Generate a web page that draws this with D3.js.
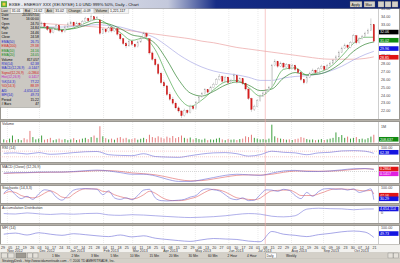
<!DOCTYPE html>
<html>
<head>
<meta charset="utf-8">
<script src="https://cdn.jsdelivr.net/npm/d3@7"></script>
<style>
  body { margin: 0; background: #d4d0c8; }
  svg { display: block; font-family: "Liberation Sans", Arial, sans-serif; }
</style>
</head>
<body>
<div id="chart"></div>
<script>
'use strict'

////////////////////////////////////
////////////// data ////////////////
////////////////////////////////////

// one candle = two trading days
const opens = [32.1,32.4,32.0,32.6,33.0,32.5,32.8,33.1,32.7,32.2,
  31.8,32.3,32.9,33.0,33.2,32.8,32.4,32.0,32.5,32.9,
  32.3,32.1,32.7,33.1,33.3,32.9,33.2,33.0,33.4,33.8,
  33.5,34.0,33.7,33.6,31.9,32.4,32.1,32.6,32.2,32.5,
  31.8,31.2,30.6,30.3,30.9,30.5,30.2,30.8,31.3,31.9,
  31.2,29.4,28.6,27.9,26.8,25.6,25.2,24.1,23.5,23.0,
  22.4,22.0,21.4,22.1,21.8,22.6,22.3,23.1,23.8,24.2,
  24.7,24.4,25.0,25.4,26.0,26.4,25.8,26.3,25.6,25.9,
  26.5,25.7,26.1,25.5,24.8,23.6,22.2,22.6,23.3,23.9,
  24.3,24.6,25.1,27.8,28.3,27.7,28.1,27.6,27.9,27.4,
  27.8,27.3,26.9,26.0,25.6,26.3,26.8,27.2,26.9,27.4,
  27.7,27.3,27.8,28.1,28.4,28.9,29.5,30.0,30.4,30.1,
  30.7,31.6,30.7,31.2,31.5,31.9,32.3,33.0]
const highs = [32.6,32.5,32.8,33.2,33.1,32.9,33.3,33.2,32.8,32.3,
  32.5,33.0,33.2,33.4,33.3,32.9,32.5,32.7,33.1,33.0,
  32.4,32.9,33.3,33.5,33.4,33.4,33.3,33.6,34.0,33.9,
  34.3,34.1,34.1,33.7,32.6,32.5,32.8,32.7,32.7,32.6,
  31.9,31.3,30.8,31.1,31.0,30.6,31.0,31.5,32.1,32.0,
  31.3,29.6,28.8,28.1,27.0,25.9,25.3,24.4,23.8,23.2,
  22.6,22.1,22.3,22.2,22.8,22.7,23.3,24.0,24.4,24.9,
  24.8,25.2,25.6,26.2,26.7,26.5,26.5,26.4,26.1,26.8,
  26.6,26.3,26.2,25.6,24.9,23.7,22.8,23.5,24.1,24.5,
  24.8,25.2,28.0,28.6,28.4,28.3,28.2,28.1,28.0,28.0,
  27.9,27.4,27.0,26.1,26.5,27.0,27.4,27.3,27.6,27.9,
  27.8,28.0,28.3,28.6,29.1,29.7,30.2,30.6,30.5,30.9,
  31.8,31.7,31.4,31.7,32.1,32.5,33.8,33.1]
const lows = [31.9,31.8,31.9,32.4,32.3,32.3,32.6,32.5,32.0,31.6,
  31.7,32.2,32.7,32.8,32.6,32.2,31.8,31.9,32.4,32.1,
  31.9,32.0,32.6,33.0,32.7,32.8,32.8,32.9,33.3,33.3,
  33.4,33.5,33.6,31.7,31.8,31.9,32.0,32.0,32.1,31.6,
  31.0,30.4,30.0,30.2,30.3,30.0,30.1,30.7,31.2,31.3,
  29.2,28.4,27.7,26.6,25.4,25.0,23.9,23.3,22.8,22.2,
  21.8,21.1,21.3,21.6,21.7,22.1,22.2,23.0,23.7,24.1,
  24.2,24.3,24.9,25.3,25.9,25.6,25.7,25.4,25.5,25.8,
  25.5,25.6,25.3,24.6,23.4,21.9,22.0,22.5,23.2,23.8,
  24.2,24.5,25.0,27.7,27.5,27.6,27.4,27.5,27.2,27.3,
  27.1,26.7,25.8,25.4,25.5,26.2,26.7,26.7,26.8,27.3,
  27.1,27.2,27.7,28.0,28.3,28.8,29.4,29.9,29.9,30.0,
  30.6,30.5,30.6,31.1,31.4,31.8,32.2,30.7]
const closes = [32.4,32.0,32.6,33.0,32.5,32.8,33.1,32.7,32.2,31.8,
  32.3,32.9,33.0,33.2,32.8,32.4,32.0,32.5,32.9,32.3,
  32.1,32.7,33.1,33.3,32.9,33.2,33.0,33.4,33.8,33.5,
  34.0,33.7,33.9,31.9,32.4,32.1,32.6,32.2,32.5,31.8,
  31.2,30.6,30.3,30.9,30.5,30.2,30.8,31.3,31.9,31.5,
  29.4,28.6,27.9,26.8,25.6,25.2,24.1,23.5,23.0,22.4,
  22.0,21.4,22.1,21.8,22.6,22.3,23.1,23.8,24.2,24.7,
  24.4,25.0,25.4,26.0,26.4,25.8,26.3,25.6,25.9,26.5,
  25.7,26.1,25.5,24.8,23.6,22.2,22.6,23.3,23.9,24.3,
  24.6,25.0,27.8,28.3,27.7,28.1,27.6,27.9,27.4,27.8,
  27.3,26.9,26.0,25.6,26.3,26.8,27.2,26.9,27.4,27.7,
  27.3,27.8,28.1,28.4,28.9,29.5,30.0,30.4,30.1,30.7,
  31.6,30.7,31.2,31.5,31.9,32.3,33.0,30.9]
// volume in millions, per candle
const volumes = [0.20,0.15,0.25,0.45,0.18,0.22,0.15,0.28,0.20,0.75,
  0.35,0.20,0.25,0.45,0.18,0.22,0.30,0.15,0.20,0.25,
  0.18,0.22,0.15,0.20,0.28,0.16,0.20,0.25,0.30,0.22,
  0.35,0.45,0.30,1.05,0.40,0.28,0.20,0.25,0.18,0.30,
  0.35,0.25,0.30,0.20,0.22,0.28,0.18,0.24,0.30,0.22,
  0.50,0.35,0.30,0.40,0.32,0.25,0.38,0.30,0.42,0.28,
  0.35,0.45,0.30,0.25,0.32,0.20,0.28,0.22,0.18,0.25,
  0.15,0.20,0.18,0.25,0.30,0.20,0.15,0.22,0.18,0.20,
  0.16,0.22,0.25,0.40,0.35,0.50,0.30,0.25,0.20,0.22,
  0.18,0.25,1.15,0.40,0.30,0.25,0.22,0.18,0.20,0.16,
  0.22,0.25,0.35,0.30,0.22,0.18,0.20,0.15,0.18,0.22,
  0.16,0.20,0.25,0.30,0.65,0.35,0.48,0.30,0.38,0.25,
  0.30,0.35,0.22,0.25,0.20,0.28,0.38,0.50]

// indicator lines, one value every 4 candles (last = final candle)
const ema10  = [32.3,32.5,32.5,32.7,32.5,32.3,32.6,33.2,33.7,33.0,32.0,31.0,31.3,29.8,26.6,23.8,22.6,23.4,24.7,25.7,25.9,25.0,23.9,25.0,27.3,27.5,26.6,26.9,27.6,29.0,30.6,31.4,31.4]
const ema20  = [32.2,32.4,32.5,32.6,32.6,32.4,32.5,32.9,33.3,33.1,32.5,31.7,31.4,30.6,28.5,26.0,24.3,23.9,24.5,25.3,25.7,25.3,24.6,24.8,26.2,26.9,26.6,26.7,27.2,28.2,29.6,30.5,30.8]
const ema50  = [32.5,32.6,32.6,32.7,32.7,32.7,32.8,32.9,33.0,32.9,32.7,32.3,31.9,31.3,30.3,29.2,28.3,27.6,27.1,26.8,26.6,26.3,25.9,25.9,26.2,26.4,26.5,26.7,27.1,27.7,28.5,29.2,29.6]
const ema200 = [33.3,33.3,33.3,33.2,33.1,33.0,32.9,32.8,32.7,32.5,32.4,32.2,32.0,31.8,31.6,31.4,31.2,30.9,30.7,30.4,30.1,29.9,29.7,29.5,29.3,29.1,28.9,28.7,28.6,28.6,28.6,28.7,28.9]
const rsi    = [55,58,50,60,48,52,60,66,68,45,40,38,52,32,28,26,38,50,58,60,52,35,45,70,62,58,45,58,62,72,74,70,55]
const macd   = [-0.3,-0.2,-0.2,-0.1,-0.1,-0.1,0.0,0.15,0.25,0.1,-0.2,-0.5,-0.5,-0.8,-1.4,-1.8,-1.8,-1.5,-1.1,-0.7,-0.5,-0.6,-0.7,-0.3,0.1,0.2,0.0,0.0,0.1,0.3,0.5,0.55,0.35]
const signal = [-0.35,-0.28,-0.22,-0.18,-0.14,-0.12,-0.06,0.04,0.15,0.16,0.02,-0.25,-0.4,-0.6,-1.0,-1.45,-1.7,-1.65,-1.35,-1.0,-0.7,-0.62,-0.65,-0.5,-0.15,0.08,0.1,0.05,0.07,0.18,0.38,0.5,0.45]
const accDist = [-0.5,-1.0,0.2,-0.8,-1.5,-0.8,-1.2,-0.5,-0.2,-2.0,-2.5,-1.8,-2.2,-3.0,-3.8,-4.5,-5.0,-4.6,-4.0,-3.0,-1.5,-0.5,-1.2,-3.5,-4.2,-3.0,4.5,5.5,5.0,4.8,3.8,4.6,4.65]
const mfi    = [55,62,50,64,55,48,58,52,45,40,50,38,45,30,22,15,10,20,28,25,22,12,8,72,55,48,40,52,60,70,75,68,35]
// stochastic, one value every 2 candles
const stochK = [60,85,50,25,40,20,55,82,75,35,15,45,80,88,90,88,85,50,75,30,20,30,18,45,80,85,30,12,10,12,15,20,35,45,78,88,82,75,50,25,18,30,12,15,50,82,80,72,85,78,45,25,65,40,70,88,90,85,88,80,88,65,75,88,18]
const stochD = [55,70,65,45,35,30,38,60,75,60,35,30,55,78,88,88,87,72,68,50,38,28,22,30,50,72,60,35,18,12,12,15,25,35,55,75,85,80,68,48,30,25,20,18,28,55,75,78,80,80,65,45,45,45,55,68,82,88,87,85,84,78,75,78,55]

const priceTicks = [22,23,24,25,26,27,28,29,30,31,32,33,34,35]
const priceTags = [[32.06,'#000000'],[31.02,'#108a10'],[29.96,'#1414e0'],[28.85,'#e01414']]

const infoBar = [['Last','31.01'],['Bid','24.62'],['Ask','31.02'],['Change','-0.09'],['Volume','1,221,117']]
const infoRows = [
  ['Date','2013/07/10','#000'],['Time','16:00:00','#000'],['Open','24.70','#000'],['High','24.84','#000'],
  ['Low','24.46','#000'],['Close','24.58','#000'],['EMA(50)','26.75','#2323c8'],['EMA(200)','29.38','#d42020'],
  ['EMA(10)','24.16','#108a10'],['EMA(20)','24.05','#108a10'],['Volume','817,057','#000'],['RSI(14)','62.38','#2323c8'],
  ['MACD(12,26,9)','-0.1447','#2323c8'],['Signal(12,26,9)','-0.2864','#d42020'],['Hist(12,26,9)','0.1417','#c020c0'],
  ['%K(14,3)','77.22','#2323c8'],['%D(14,3)','88.39','#d42020'],['A/D','-4,654,114','#2323c8'],
  ['MFI(14)','49.73','#2323c8'],['Period','15.22','#000'],['# Bars','47','#000']
]
const tabs = ['1 Min','2 Min','3 Min','5 Min','10 Min','15 Min','20 Min','30 Min','60 Min','2 Hour','4 Hour','Daily','Weekly']

////////////////////////////////////
//////////// svg setup /////////////
////////////////////////////////////

const W = 400, H = 263
const svg = d3.select('#chart').append('svg').attr('width', W).attr('height', H)
svg.append('rect').attr('width', W).attr('height', H).attr('fill', '#b4b0a8')

// trading days
const days = []
for (let d = new Date(2012, 9, 29); d <= new Date(2013, 9, 22); d.setDate(d.getDate() + 1)) {
  if (d.getDay() !== 0 && d.getDay() !== 6) days.push(new Date(d))
}
const plotRight = 378
const x = d3.scaleLinear().domain([0, days.length - 1]).range([3, 376])
const cx = i => x(Math.min(i * 2, days.length - 1) + 0.5)
const sparse = (vals, step) => vals.map((v, k) => ({i: Math.min(k * step, closes.length - 1), v}))

const panes = {
  main:  {top: 8.5,   bottom: 119.5},
  vol:   {top: 121.5, bottom: 143.5},
  rsi:   {top: 145.5, bottom: 162.5},
  macd:  {top: 164.5, bottom: 183.5},
  stoch: {top: 185.5, bottom: 203.5},
  ad:    {top: 205.5, bottom: 223.5},
  mfi:   {top: 225.5, bottom: 244.5}
}

const yPrice = d3.scaleLinear().domain([22, 35]).range([111, 9])
const yVol   = d3.scaleLinear().domain([0, 1]).range([142.5, 127])
const yRsi   = d3.scaleLinear().domain([0, 100]).range([161, 147])
const yMacd  = d3.scaleLinear().domain([-2, 1]).range([182.5, 166])
const yStoch = d3.scaleLinear().domain([0, 100]).range([202.5, 187])
const yAd    = d3.scaleLinear().domain([-10, 8]).range([222, 206])
const yMfi   = d3.scaleLinear().domain([0, 100]).range([243, 227])

const monthStarts = days.map((d, i) => i).filter(i => i > 0 && days[i].getMonth() !== days[i - 1].getMonth())
const weekStarts = days.map((d, i) => i).filter(i => i === 0 || days[i].getDay() < days[i - 1].getDay())
const markerIdx = days.findIndex(d => d >= new Date(2013, 6, 8))

// pane frames + grid
Object.values(panes).forEach(p => {
  svg.append('rect').attr('x', 0.5).attr('y', p.top).attr('width', W - 1).attr('height', p.bottom - p.top)
    .attr('fill', '#ffffff').attr('stroke', '#8a8780').attr('stroke-width', 0.8)
  svg.append('g').selectAll('line').data(monthStarts).join('line')
    .attr('x1', i => x(i)).attr('x2', i => x(i)).attr('y1', p.top + 0.5).attr('y2', p.bottom - 0.5)
    .attr('stroke', '#d6d6d6').attr('stroke-width', 0.5).attr('stroke-dasharray', '1,1')
  svg.append('line').attr('x1', plotRight + 0.5).attr('x2', plotRight + 0.5).attr('y1', p.top).attr('y2', p.bottom)
    .attr('stroke', '#9a9a9a').attr('stroke-width', 0.5)
})

// selected day marker
svg.append('line').attr('x1', x(markerIdx)).attr('x2', x(markerIdx)).attr('y1', 8.5).attr('y2', 244.5)
  .attr('stroke', '#f2a4a4').attr('stroke-width', 0.6)

const clip = svg.append('defs').append('clipPath').attr('id', 'plot-clip')
clip.append('rect').attr('x', 0).attr('y', 0).attr('width', plotRight).attr('height', H)
const plot = svg.append('g').attr('clip-path', 'url(#plot-clip)')

const drawLine = (data, y, color, width) => {
  plot.append('path').datum(data)
    .attr('d', d3.line().x(d => cx(d.i)).y(d => y(d.v)).curve(d3.curveMonotoneX))
    .attr('fill', 'none').attr('stroke', color).attr('stroke-width', width)
}

////////////////////////////////////
//////////// main chart ////////////
////////////////////////////////////

drawLine(sparse(ema200, 4), yPrice, '#eba2a2', 0.7)
drawLine(sparse(ema50, 4), yPrice, '#9c9ce0', 0.6)
drawLine(sparse(ema20, 4), yPrice, '#0e6e0e', 0.6)
drawLine(sparse(ema10, 4), yPrice, '#2f9a2f', 0.6)

const candles = closes.map((c, i) => ({i, o: opens[i], h: highs[i], l: lows[i], c}))
plot.append('g').selectAll('line').data(candles).join('line')
  .attr('x1', d => cx(d.i)).attr('x2', d => cx(d.i))
  .attr('y1', d => yPrice(d.h)).attr('y2', d => yPrice(d.l))
  .attr('stroke', '#9a9a9a').attr('stroke-width', 0.45)
plot.append('g').selectAll('rect').data(candles).join('rect')
  .attr('x', d => cx(d.i) - 0.7).attr('width', 1.4)
  .attr('y', d => yPrice(Math.max(d.o, d.c)))
  .attr('height', d => Math.max(0.6, Math.abs(yPrice(d.o) - yPrice(d.c))))
  .attr('fill', d => d.c < d.o ? '#d81c1c' : '#ffffff')
  .attr('stroke', d => d.c < d.o ? '#c01414' : '#9a9a9a').attr('stroke-width', 0.3)

////////////////////////////////////
/////////// lower panes ////////////
////////////////////////////////////

plot.append('g').selectAll('rect').data(candles).join('rect')
  .attr('x', d => cx(d.i) - 0.5).attr('width', 1.0)
  .attr('y', d => yVol(volumes[d.i])).attr('height', d => yVol(0) - yVol(volumes[d.i]))
  .attr('fill', d => d.c < d.o ? '#e57c7c' : '#3f9f3f')

;[30, 70].forEach(v => {
  plot.append('line').attr('x1', 0).attr('x2', plotRight).attr('y1', yRsi(v)).attr('y2', yRsi(v))
    .attr('stroke', '#ee9a9a').attr('stroke-width', 0.5).attr('stroke-dasharray', '1,1')
})
drawLine(sparse(rsi, 4), yRsi, '#6b6bd6', 0.6)

plot.append('line').attr('x1', 0).attr('x2', plotRight).attr('y1', yMacd(0)).attr('y2', yMacd(0))
  .attr('stroke', '#9a9a9a').attr('stroke-width', 0.4).attr('stroke-dasharray', '1,1')
drawLine(sparse(signal, 4), yMacd, '#e06262', 0.6)
drawLine(sparse(macd, 4), yMacd, '#6b6bd6', 0.6)

drawLine(sparse(stochD, 2), yStoch, '#e06262', 0.6)
drawLine(sparse(stochK, 2), yStoch, '#6b6bd6', 0.6)

drawLine(sparse(accDist, 4), yAd, '#7b7bdc', 0.6)
drawLine(sparse(mfi, 4), yMfi, '#6b6bd6', 0.6)

// pane titles
const titles = [['vol','Volume'],['rsi','RSI (14)'],['macd','MACD (Close) (12,26,9)'],
  ['stoch','Stochastic (14,3,3)'],['ad','Accumulation Distribution'],['mfi','MFI (14)']]
titles.forEach(([k, t]) => {
  svg.append('text').attr('x', 2).attr('y', panes[k].top + 3.6).text(t)
    .attr('font-size', 3.6).attr('fill', '#333')
})

////////////////////////////////////
//////////// right axis ////////////
////////////////////////////////////

const axisText = (y, t) => svg.append('text').attr('x', plotRight + 3).attr('y', y + 1.3).text(t)
  .attr('font-size', 3.7).attr('fill', '#444')
priceTicks.forEach(v => axisText(yPrice(v), v.toFixed(2)))
axisText(yVol(1), '1M')
axisText(panes.rsi.top + 1.8, '100.00')
axisText(panes.stoch.top + 1.8, '100.00')
axisText(panes.mfi.top + 1.8, '100.00')
axisText(yAd(0), '0')

const tag = (y, color, t) => {
  svg.append('rect').attr('x', plotRight + 1).attr('y', y - 2.3).attr('width', 19.5).attr('height', 4.6).attr('fill', color)
  svg.append('text').attr('x', plotRight + 2).attr('y', y + 1.3).text(t).attr('font-size', 3.6).attr('fill', '#fff')
}
priceTags.forEach(([v, c]) => tag(yPrice(v), c, v.toFixed(2)))
tag(yVol(0.208), '#108a10', '208,637')
tag(yRsi(62.38), '#1414e0', '62.38')
tag(yMacd(0.45), '#e01414', '0.2864')
tag(yMacd(0.45) + 4.8, '#e020e0', '0.1417')
tag(yStoch(47.06), '#e01414', '47.06')
tag(yStoch(47.06) + 3.6, '#1414e0', '30.29')
tag(yAd(4.65), '#1414e0', '4,654,114')
tag(yMfi(59), '#1414e0', '49.73')

////////////////////////////////////
//////////// date axis /////////////
////////////////////////////////////

svg.append('rect').attr('x', 0).attr('y', 244.5).attr('width', W).attr('height', 8).attr('fill', '#f2f1ee')
svg.append('g').selectAll('text').data(weekStarts).join('text')
  .attr('x', i => x(i)).attr('y', 248.6).attr('text-anchor', 'middle')
  .text(i => d3.timeFormat('%d')(days[i])).attr('font-size', 3.6).attr('fill', '#333')
svg.append('g').selectAll('text').data(monthStarts).join('text')
  .attr('x', i => x(i)).attr('y', 252.3)
  .text(i => d3.timeFormat('%b %Y')(days[i])).attr('font-size', 3.6).attr('fill', '#333')

////////////////////////////////////
///////// window chrome ////////////
////////////////////////////////////

const grad = svg.select('defs').append('linearGradient').attr('id', 'title-grad')
grad.append('stop').attr('offset', '0%').attr('stop-color', '#eeeef2')
grad.append('stop').attr('offset', '42%').attr('stop-color', '#c4c9dc')
grad.append('stop').attr('offset', '54%').attr('stop-color', '#162c86')
grad.append('stop').attr('offset', '100%').attr('stop-color', '#0a1f70')
svg.append('rect').attr('x', 0).attr('y', 0).attr('width', W).attr('height', 8.5).attr('fill', 'url(#title-grad)')
svg.append('rect').attr('x', 1).attr('y', 1.2).attr('width', 6).attr('height', 6).attr('fill', '#5aa83c')
svg.append('rect').attr('x', 2.5).attr('y', 2.7).attr('width', 3).attr('height', 3).attr('fill', '#f0d040')
svg.append('text').attr('x', 9).attr('y', 6).text('EXBE - ENERGY XXX (XEI.NYSE) 1.0 UND 999% 50%, Daily - Chart')
  .attr('font-size', 4.2).attr('fill', '#111')
;[[350, 12, 'Apply'], [364, 11, 'Max']].forEach(([bx, bw, t]) => {
  svg.append('rect').attr('x', bx).attr('y', 1.3).attr('width', bw).attr('height', 5.8).attr('fill', '#d4d0c8').attr('stroke', '#555').attr('stroke-width', 0.3)
  svg.append('text').attr('x', bx + 1.5).attr('y', 5.5).text(t).attr('font-size', 3.4).attr('fill', '#111')
})
;[378, 385, 392].forEach(bx => {
  svg.append('rect').attr('x', bx).attr('y', 1.3).attr('width', 6).attr('height', 5.8).attr('fill', '#d4d0c8').attr('stroke', '#555').attr('stroke-width', 0.3)
})

// quote strip
let ix = 0
infoBar.forEach(([k, v]) => {
  const kw = k.length * 1.9 + 3, vw = v.length * 1.9 + 3
  svg.append('rect').attr('x', ix).attr('y', 8.5).attr('width', kw).attr('height', 4.8).attr('fill', '#d4d0c8').attr('stroke', '#999').attr('stroke-width', 0.3)
  svg.append('text').attr('x', ix + 1.2).attr('y', 12.2).text(k).attr('font-size', 3.5).attr('fill', '#111')
  ix += kw
  svg.append('rect').attr('x', ix).attr('y', 8.5).attr('width', vw).attr('height', 4.8).attr('fill', '#f4f4f4').attr('stroke', '#999').attr('stroke-width', 0.3)
  svg.append('text').attr('x', ix + 1.2).attr('y', 12.2).text(v).attr('font-size', 3.5).attr('fill', '#111')
  ix += vw + 0.5
})

// data window
svg.append('rect').attr('x', 0).attr('y', 13.3).attr('width', 40).attr('height', 94)
  .attr('fill', '#cbc8c2').attr('stroke', '#8a8780').attr('stroke-width', 0.5)
infoRows.forEach(([k, v, c], r) => {
  const ry = 16 + r * 4.45
  svg.append('text').attr('x', 1.5).attr('y', ry).text(k).attr('font-size', 3.3).attr('fill', c)
  svg.append('text').attr('x', 38.8).attr('y', ry).attr('text-anchor', 'end').text(v).attr('font-size', 3.3).attr('fill', c)
})

// tab strip
svg.append('rect').attr('x', 0).attr('y', 252.5).attr('width', W).attr('height', 6).attr('fill', '#d4d0c8')
;[[1.5, 6], [8, 6], [16, 10], [27.5, 5], [33, 5]].forEach(([bx, bw], k) => {
  svg.append('rect').attr('x', bx).attr('y', 253).attr('width', bw).attr('height', 5)
    .attr('fill', k === 2 ? '#9c9890' : '#e4e1da').attr('stroke', '#666').attr('stroke-width', 0.3)
})
tabs.forEach((t, k) => {
  const tx = 52 + k * 19.5
  if (t === 'Daily') svg.append('rect').attr('x', tx - 1).attr('y', 253).attr('width', 11).attr('height', 5).attr('fill', '#fff').attr('stroke', '#666').attr('stroke-width', 0.3)
  svg.append('text').attr('x', tx).attr('y', 256.8).text(t).attr('font-size', 3.2).attr('fill', '#222')
})
;[388, 393.5].forEach(bx => {
  svg.append('rect').attr('x', bx).attr('y', 253).attr('width', 5).attr('height', 5).attr('fill', '#e4e1da').attr('stroke', '#666').attr('stroke-width', 0.3)
})

// status line
svg.append('rect').attr('x', 0).attr('y', 258.5).attr('width', W).attr('height', 4.5).attr('fill', '#d4d0c8')
svg.append('text').attr('x', 2).attr('y', 262).text('StrategyDesk - http://www.tdameritrade.com - \u00a9 2006 TD AMERITRADE, Inc.')
  .attr('font-size', 3.3).attr('fill', '#222')
</script>
</body>
</html>
